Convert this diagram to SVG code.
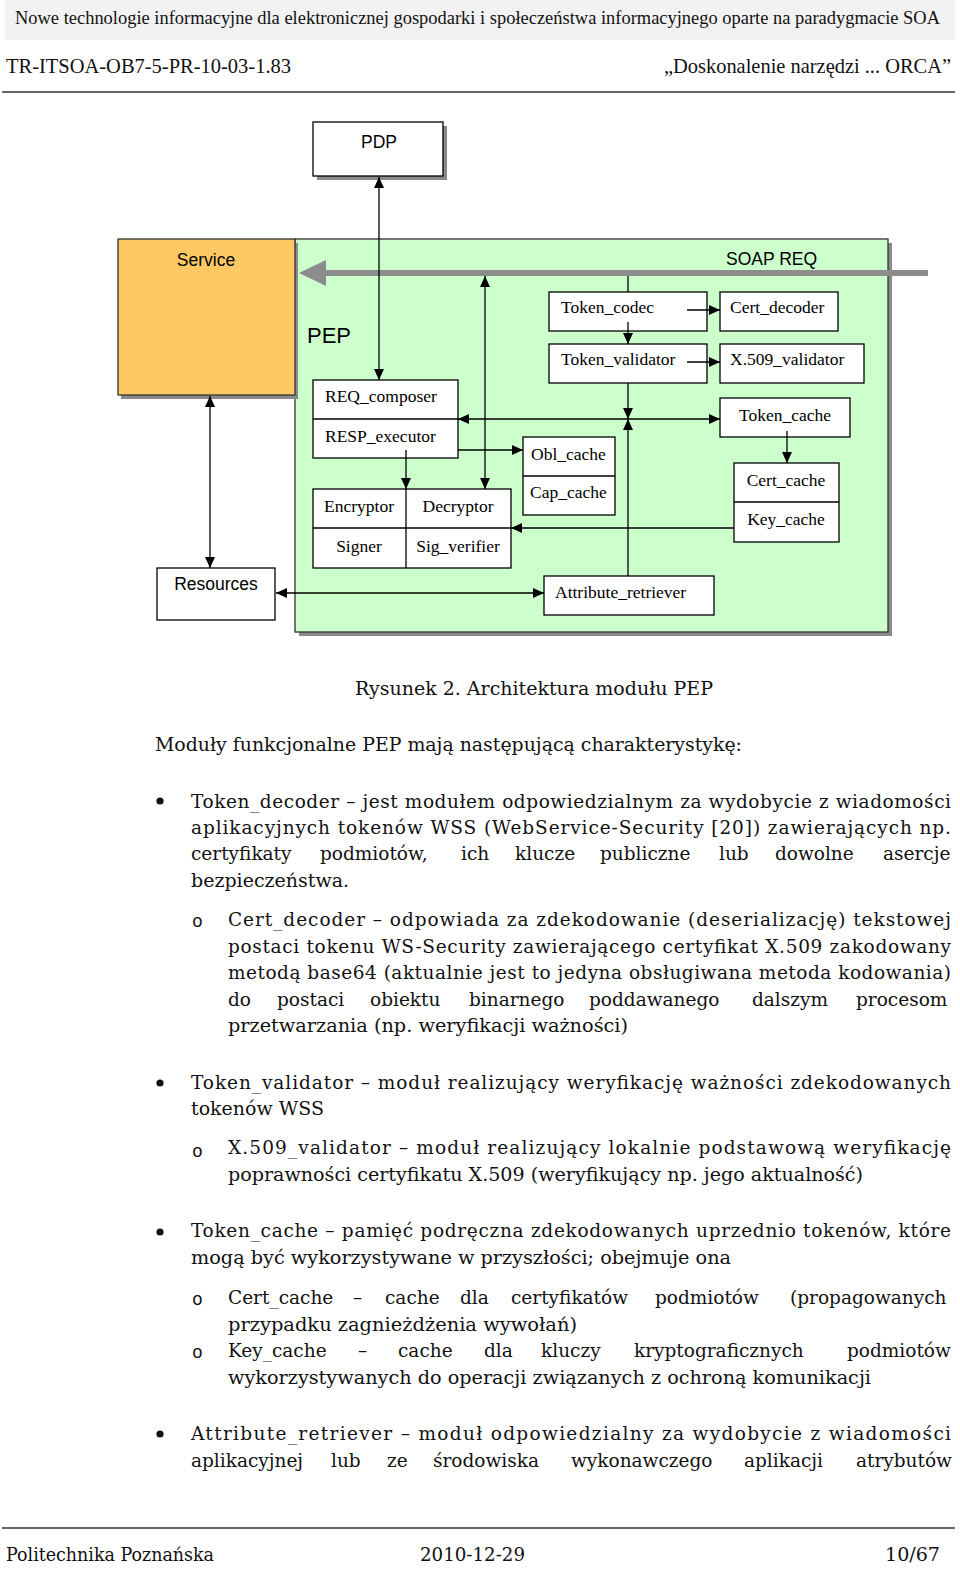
<svg xmlns="http://www.w3.org/2000/svg" width="960" height="1571" viewBox="0 0 960 1571">
<style>
.doc{font-family:"DejaVu Serif","Liberation Serif",serif;font-size:18.5px;fill:#111}
.hd{font-family:"Liberation Serif","Times New Roman",serif;fill:#111}
.tm{font-family:"Liberation Serif","Times New Roman",serif;font-size:17.5px;fill:#000}
.ar{font-family:"Liberation Sans",Arial,sans-serif;font-size:17.5px;fill:#000}
.box{fill:#fff;stroke:#000;stroke-width:1.3}
.sh{fill:#8a8a8a}
.c{fill:none;stroke:#000;stroke-width:1.3}
</style>
<defs>
<marker id="ah" markerUnits="userSpaceOnUse" markerWidth="11" markerHeight="10" refX="11" refY="5" orient="auto-start-reverse">
<path d="M0,0 L11,5 L0,10 z" fill="#000"/>
</marker>
</defs>
<rect width="960" height="1571" fill="#fff"/>
<!-- page header -->
<rect x="5" y="0" width="950" height="40" fill="#f2f2f2"/>
<text class="hd" x="15" y="24" style="font-size:18px" textLength="925" lengthAdjust="spacingAndGlyphs">Nowe technologie informacyjne dla elektronicznej gospodarki i społeczeństwa informacyjnego oparte na paradygmacie SOA</text>
<text class="hd" x="6" y="73" style="font-size:21px" textLength="285" lengthAdjust="spacingAndGlyphs">TR-ITSOA-OB7-5-PR-10-03-1.83</text>
<text class="hd" x="664" y="73" style="font-size:21px" textLength="287" lengthAdjust="spacingAndGlyphs">„Doskonalenie narzędzi ... ORCA”</text>
<line x1="2" y1="92" x2="955" y2="92" stroke="#333" stroke-width="1.5"/>

<!-- diagram -->
<g id="pep">
<rect class="sh" x="299" y="243" width="593" height="393"/>
<rect x="295" y="239" width="593" height="393" fill="#ccffcc" stroke="#333" stroke-width="1.3"/>
<text class="ar" x="307" y="343" style="font-size:22px">PEP</text>
<text class="ar" x="726" y="265">SOAP REQ</text>
</g>
<g id="pdp">
<rect class="sh" x="317" y="126" width="130" height="54"/>
<rect class="box" x="313" y="122" width="130" height="54"/>
<text class="ar" x="379" y="148" text-anchor="middle">PDP</text>
</g>
<g id="service">
<rect class="sh" x="121" y="243" width="177" height="156"/>
<rect x="118" y="239" width="177" height="156" fill="#fec964" stroke="#333" stroke-width="1.3"/>
<text class="ar" x="206" y="266" text-anchor="middle">Service</text>
</g>
<g id="resources">
<rect class="box" x="157" y="568" width="118" height="52"/>
<text class="ar" x="216" y="590" text-anchor="middle">Resources</text>
</g>
<g id="req_resp">
<rect class="box" x="313" y="380" width="145" height="78"/>
<line class="c" x1="313" y1="419" x2="458" y2="419"/>
<text class="tm" x="325" y="402">REQ_composer</text>
<text class="tm" x="325" y="442">RESP_executor</text>
</g>
<g id="crypto">
<rect class="box" x="313" y="489" width="198" height="79"/>
<line class="c" x1="313" y1="528" x2="511" y2="528"/>
<line class="c" x1="406" y1="489" x2="406" y2="568"/>
<text class="tm" x="324" y="512">Encryptor</text>
<text class="tm" x="458" y="512" text-anchor="middle">Decryptor</text>
<text class="tm" x="359" y="552" text-anchor="middle">Signer</text>
<text class="tm" x="458" y="552" text-anchor="middle">Sig_verifier</text>
</g>
<g id="obl_cap">
<rect class="box" x="523" y="437" width="92" height="78"/>
<line class="c" x1="523" y1="476" x2="615" y2="476"/>
<text class="tm" x="531" y="460">Obl_cache</text>
<text class="tm" x="530" y="498">Cap_cache</text>
</g>
<g id="token_codec">
<rect class="box" x="549" y="292" width="158" height="39"/>
<text class="tm" x="561" y="313">Token_codec</text>
</g>
<g id="token_validator">
<rect class="box" x="549" y="344" width="158" height="39"/>
<text class="tm" x="561" y="365">Token_validator</text>
</g>
<g id="cert_decoder">
<rect class="box" x="720" y="292" width="118" height="39"/>
<text class="tm" x="730" y="313">Cert_decoder</text>
</g>
<g id="x509_validator">
<rect class="box" x="720" y="344" width="144" height="39"/>
<text class="tm" x="730" y="365">X.509_validator</text>
</g>
<g id="token_cache">
<rect class="box" x="720" y="398" width="130" height="39"/>
<text class="tm" x="785" y="421" text-anchor="middle">Token_cache</text>
</g>
<g id="cert_key">
<rect class="box" x="734" y="463" width="105" height="79"/>
<line class="c" x1="734" y1="502" x2="839" y2="502"/>
<text class="tm" x="786" y="486" text-anchor="middle">Cert_cache</text>
<text class="tm" x="786" y="525" text-anchor="middle">Key_cache</text>
</g>
<g id="attribute_retriever">
<rect class="box" x="544" y="576" width="170" height="39"/>
<text class="tm" x="555" y="598">Attribute_retriever</text>
</g>

<g id="connectors">
<line x1="928" y1="273" x2="322" y2="273" stroke="#8c8c8c" stroke-width="6"/>
<polygon points="299,273 326,260 326,286" fill="#8c8c8c"/>
<line class="c" x1="379" y1="177" x2="379" y2="380" marker-start="url(#ah)" marker-end="url(#ah)"/>
<line class="c" x1="210" y1="396" x2="210" y2="568" marker-start="url(#ah)" marker-end="url(#ah)"/>
<line class="c" x1="276" y1="593" x2="544" y2="593" marker-start="url(#ah)" marker-end="url(#ah)"/>
<line class="c" x1="485" y1="276" x2="485" y2="489" marker-start="url(#ah)" marker-end="url(#ah)"/>
<line class="c" x1="628" y1="276" x2="628" y2="292"/>
<line class="c" x1="628" y1="322" x2="628" y2="344" marker-end="url(#ah)"/>
<line class="c" x1="687" y1="310" x2="720" y2="310" marker-end="url(#ah)"/>
<line class="c" x1="687" y1="362" x2="720" y2="362" marker-end="url(#ah)"/>
<line class="c" x1="628" y1="383" x2="628" y2="419" marker-end="url(#ah)"/>
<line class="c" x1="628" y1="576" x2="628" y2="419" marker-end="url(#ah)"/>
<line class="c" x1="628" y1="419" x2="458" y2="419" marker-end="url(#ah)"/>
<line class="c" x1="628" y1="419" x2="720" y2="419" marker-end="url(#ah)"/>
<line class="c" x1="458" y1="450" x2="523" y2="450" marker-end="url(#ah)"/>
<line class="c" x1="406" y1="450" x2="406" y2="489" marker-end="url(#ah)"/>
<line class="c" x1="787" y1="431" x2="787" y2="463" marker-end="url(#ah)"/>
<line class="c" x1="734" y1="528" x2="511" y2="528" marker-end="url(#ah)"/>
</g>

<!-- caption and body text -->
<text class="doc" x="355" y="695" textLength="358" lengthAdjust="spacingAndGlyphs">Rysunek 2. Architektura modułu PEP</text>
<text class="doc" x="155" y="751" textLength="587" lengthAdjust="spacingAndGlyphs">Moduły funkcjonalne PEP mają następującą charakterystykę:</text>

<circle cx="160" cy="801" r="3.6" fill="#111"/>
<circle cx="160" cy="1083" r="3.6" fill="#111"/>
<circle cx="160" cy="1232" r="3.6" fill="#111"/>
<circle cx="160" cy="1434" r="3.6" fill="#111"/>
<text class="doc" style="font-family:'Liberation Mono',monospace;font-size:18px"><tspan x="192" y="927">o</tspan><tspan x="192" y="1157">o</tspan><tspan x="192" y="1305">o</tspan><tspan x="192" y="1358">o</tspan></text>

<text class="doc" x="191" y="808" textLength="760" lengthAdjust="spacing">Token_decoder – jest modułem odpowiedzialnym za wydobycie z wiadomości</text>
<text class="doc" x="191" y="834" textLength="760" lengthAdjust="spacing">aplikacyjnych tokenów WSS (WebService-Security [20]) zawierających np.</text>
<text class="doc" y="860"><tspan x="191">certyfikaty</tspan><tspan x="320">podmiotów,</tspan><tspan x="461">ich</tspan><tspan x="515">klucze</tspan><tspan x="600">publiczne</tspan><tspan x="719">lub</tspan><tspan x="775">dowolne</tspan><tspan x="883">asercje</tspan></text>
<text class="doc" x="191" y="887" textLength="158" lengthAdjust="spacingAndGlyphs">bezpieczeństwa.</text>

<text class="doc" x="228" y="926" textLength="723" lengthAdjust="spacing">Cert_decoder – odpowiada za zdekodowanie (deserializację) tekstowej</text>
<text class="doc" x="228" y="953" textLength="723" lengthAdjust="spacing">postaci tokenu WS-Security zawierającego certyfikat X.509 zakodowany</text>
<text class="doc" x="228" y="979" textLength="723" lengthAdjust="spacing">metodą base64 (aktualnie jest to jedyna obsługiwana metoda kodowania)</text>
<text class="doc" y="1006"><tspan x="228">do</tspan><tspan x="277">postaci</tspan><tspan x="370">obiektu</tspan><tspan x="469">binarnego</tspan><tspan x="589">poddawanego</tspan><tspan x="752">dalszym</tspan><tspan x="856">procesom</tspan></text>
<text class="doc" x="228" y="1032" textLength="400" lengthAdjust="spacingAndGlyphs">przetwarzania (np. weryfikacji ważności)</text>

<text class="doc" x="191" y="1089" textLength="760" lengthAdjust="spacing">Token_validator – moduł realizujący weryfikację ważności zdekodowanych</text>
<text class="doc" x="191" y="1115" textLength="133" lengthAdjust="spacingAndGlyphs">tokenów WSS</text>
<text class="doc" x="228" y="1154" textLength="723" lengthAdjust="spacing">X.509_validator – moduł realizujący lokalnie podstawową weryfikację</text>
<text class="doc" x="228" y="1181" textLength="635" lengthAdjust="spacingAndGlyphs">poprawności certyfikatu X.509 (weryfikujący np. jego aktualność)</text>

<text class="doc" x="191" y="1237" textLength="760" lengthAdjust="spacing">Token_cache – pamięć podręczna zdekodowanych uprzednio tokenów, które</text>
<text class="doc" x="191" y="1264" textLength="540" lengthAdjust="spacingAndGlyphs">mogą być wykorzystywane w przyszłości; obejmuje ona</text>
<text class="doc" y="1304"><tspan x="228">Cert_cache</tspan><tspan x="353">–</tspan><tspan x="385">cache</tspan><tspan x="460">dla</tspan><tspan x="511">certyfikatów</tspan><tspan x="655">podmiotów</tspan><tspan x="790">(propagowanych</tspan></text>
<text class="doc" x="228" y="1331" textLength="349" lengthAdjust="spacingAndGlyphs">przypadku zagnieżdżenia wywołań)</text>
<text class="doc" y="1357"><tspan x="228">Key_cache</tspan><tspan x="358">–</tspan><tspan x="398">cache</tspan><tspan x="484">dla</tspan><tspan x="541">kluczy</tspan><tspan x="634">kryptograficznych</tspan><tspan x="847">podmiotów</tspan></text>
<text class="doc" x="228" y="1384" textLength="643" lengthAdjust="spacingAndGlyphs">wykorzystywanych do operacji związanych z ochroną komunikacji</text>

<text class="doc" x="191" y="1440" textLength="760" lengthAdjust="spacing">Attribute_retriever – moduł odpowiedzialny za wydobycie z wiadomości</text>
<text class="doc" y="1467"><tspan x="191">aplikacyjnej</tspan><tspan x="331">lub</tspan><tspan x="387">ze</tspan><tspan x="433">środowiska</tspan><tspan x="571">wykonawczego</tspan><tspan x="744">aplikacji</tspan><tspan x="856">atrybutów</tspan></text>

<!-- footer -->
<line x1="2" y1="1528" x2="955" y2="1528" stroke="#333" stroke-width="1.5"/>
<text class="doc" x="6" y="1561" textLength="208" lengthAdjust="spacingAndGlyphs">Politechnika Poznańska</text>
<text class="doc" x="420" y="1561" textLength="105" lengthAdjust="spacingAndGlyphs">2010-12-29</text>
<text class="doc" x="885" y="1561" textLength="55" lengthAdjust="spacingAndGlyphs">10/67</text>
</svg>
